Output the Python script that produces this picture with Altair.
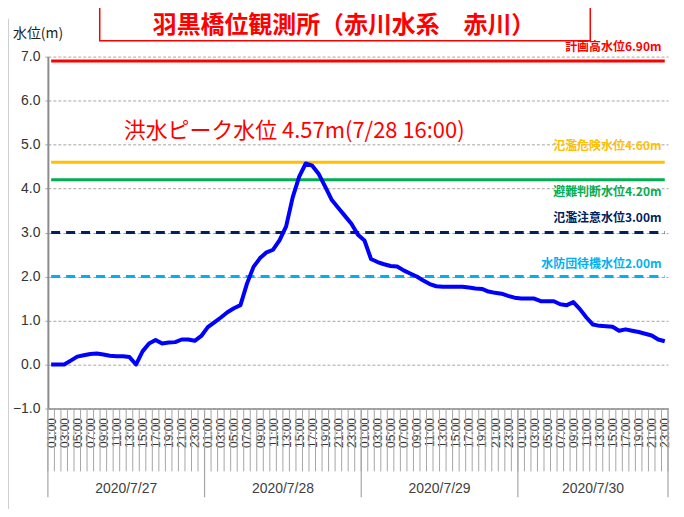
import altair as alt
import pandas as pd

# ---------------- data ----------------
# hourly water level, 2020/7/27 01:00 ... 2020/7/30 23:00
levels = [0.00, 0.00, 0.00, 0.09, 0.18, 0.21, 0.24, 0.25, 0.23, 0.20, 0.19, 0.19,
          0.17, 0.00, 0.30, 0.48, 0.56, 0.48, 0.50, 0.51, 0.57, 0.57, 0.54, 0.65,
          0.85, 0.96, 1.07, 1.19, 1.28, 1.35, 1.84, 2.22, 2.42, 2.55, 2.61, 2.83,
          3.14, 3.80, 4.27, 4.57, 4.52, 4.33, 4.04, 3.74, 3.56, 3.38, 3.20, 2.95,
          2.82, 2.40, 2.33, 2.28, 2.24, 2.23, 2.14, 2.07, 2.00, 1.91, 1.83, 1.78,
          1.77, 1.77, 1.77, 1.77, 1.75, 1.73, 1.72, 1.66, 1.63, 1.61, 1.56, 1.52,
          1.50, 1.50, 1.50, 1.44, 1.44, 1.44, 1.37, 1.35, 1.42, 1.26, 1.07, 0.91,
          0.88, 0.87, 0.86, 0.77, 0.80, 0.77, 0.74, 0.70, 0.66, 0.57, 0.53]
days = ["2020/7/27", "2020/7/28", "2020/7/29", "2020/7/30"]
day_hours = [24, 24, 24, 23]

th_names = ["計画高水位6.90m", "氾濫危険水位4.60m", "避難判断水位4.20m",
            "氾濫注意水位3.00m", "水防団待機水位2.00m"]
th_values = [6.90, 4.60, 4.20, 3.00, 2.00]
th_colors = ["#FF0000", "#FFC000", "#00B050", "#002060", "#00B0F0"]

peak_text = "洪水ピーク水位 4.57m(7/28 16:00)"
title_text = "羽黒橋位観測所（赤川水系　赤川）"
y_title = "水位(m)"
y_ticks = [-1, 0, 1, 2, 3, 4, 5, 6, 7]

# ---------------- layout ----------------
W, H = 622, 353
n = len(levels)
xs = alt.Scale(domain=[-0.5, n - 0.5], nice=False, zero=False)
ys = alt.Scale(domain=[-1, 7], nice=False, zero=False)
JP = "Noto Sans CJK JP"
LAT = "Liberation Sans"
th_dash = [None, None, None, [9, 6], [9, 6]]
th_dy = [-14, -16, 12, -15, -13]

label_expr = ("(((datum.value % 24) + 1) < 10 ? '0' : '') + "
              "((datum.value % 24) + 1) + ':00'")
x_axis = alt.Axis(
    values=list(range(0, n, 2)), labelExpr=label_expr, labelAngle=270,
    ticks=False, grid=False, domainColor="#8C8C8C", domainWidth=1.5,
    labelPadding=9, labelFont=LAT, labelFontSize=12, labelColor="#333333",
    labelFlush=False, labelOverlap=False, labelBound=False, title=None)
y_axis = alt.Axis(
    values=y_ticks, format=".1f", grid=True, gridDash=[3, 2],
    gridColor="#A6A6A6", gridWidth=1, tickSize=5, tickColor="#A6A6A6",
    tickDash=[3, 2], domainColor="#8C8C8C", domainWidth=2,
    labelFont=LAT, labelFontSize=14, labelColor="#333333", labelPadding=3,
    title=None)


def X(f):
    return alt.X(f, scale=xs, axis=x_axis)


def Y(f):
    return alt.Y(f, scale=ys, axis=y_axis)


one = pd.DataFrame({"a": [0]})
main = pd.DataFrame({"k": list(range(n)), "v": levels})
layers = []

# base layer carrying both axes
layers.append(alt.Chart(main).mark_line(opacity=0).encode(x=X("k:Q"), y=Y("v:Q")))

# category boundary ticks
bounds = pd.DataFrame({"k": [i - 0.5 for i in range(n + 1)]})
layers.append(alt.Chart(bounds).mark_rule(color="#A6A6A6", strokeWidth=1).encode(
    x=X("k:Q"), y=alt.value(H), y2=alt.value(H + 63)))

# day separators and labels
db = [-0.5]
for h in day_hours:
    db.append(db[-1] + h)
sep = pd.DataFrame({"k": db})
layers.append(alt.Chart(sep).mark_rule(color="#A6A6A6", strokeWidth=1.2).encode(
    x=X("k:Q"), y=alt.value(H), y2=alt.value(H + 89)))
dl = pd.DataFrame({"d": days, "k": [(db[i] + db[i + 1]) / 2 for i in range(len(days))]})
layers.append(alt.Chart(dl).mark_text(font=LAT, fontSize=14, color="#404040",
                                      baseline="middle").encode(
    x=X("k:Q"), y=alt.value(H + 81), text="d:N"))

# threshold lines
for name, val, col, dash in zip(th_names, th_values, th_colors, th_dash):
    df = pd.DataFrame({"k": [0], "k2": [n - 1], "v": [val]})
    kw = dict(color=col, strokeWidth=3)
    if dash:
        kw["strokeDash"] = dash
    layers.append(alt.Chart(df).mark_rule(**kw).encode(
        x=X("k:Q"), x2="k2:Q", y=Y("v:Q")))

# threshold labels
for name, val, col, dy in zip(th_names, th_values, th_colors, th_dy):
    df = pd.DataFrame({"k": [n - 1.5], "v": [val], "t": [name]})
    layers.append(alt.Chart(df).mark_text(font=JP, fontSize=12, fontWeight="bold",
                                          color=col, align="right", baseline="middle",
                                          dy=dy).encode(
        x=X("k:Q"), y=Y("v:Q"), text="t:N"))

# main water level line
layers.append(alt.Chart(main).mark_line(color="#0000FF", strokeWidth=4,
                                        strokeJoin="round").encode(
    x=X("k:Q"), y=Y("v:Q")))

# peak annotation
layers.append(alt.Chart(one).mark_text(font=JP, fontSize=22, color="#FF0000",
                                       align="center", baseline="middle",
                                       text=peak_text).encode(
    x=alt.value(247), y=alt.value(75)))

# title box and title
layers.append(alt.Chart(one).mark_rect(fill="white", stroke="#FF0000",
                                       strokeWidth=1.5).encode(
    x=alt.value(52), x2=alt.value(544), y=alt.value(-70), y2=alt.value(-16)))
layers.append(alt.Chart(one).mark_text(font=JP, fontSize=24, fontWeight="bold",
                                       color="#FF0000", align="center",
                                       baseline="middle", text=title_text).encode(
    x=alt.value(297), y=alt.value(-31)))

# y axis title
layers.append(alt.Chart(one).mark_text(font=JP, fontSize=14, color="#222222",
                                       align="left", baseline="middle",
                                       text=y_title).encode(
    x=alt.value(-35), y=alt.value(-23)))

# outer left border
layers.append(alt.Chart(one).mark_rule(color="#D0D0D0", strokeWidth=1).encode(
    x=alt.value(-39.5), y=alt.value(-38), y2=alt.value(H + 130)))

chart = alt.layer(*layers).properties(
    width=W, height=H,
    autosize=alt.AutoSizeParams(type="none"),
    padding={"left": 40, "top": 48, "right": 8, "bottom": 100},
    background="white",
).configure_view(stroke=None)

chart.save("out.html", embed_options={"renderer": "svg", "actions": False})
